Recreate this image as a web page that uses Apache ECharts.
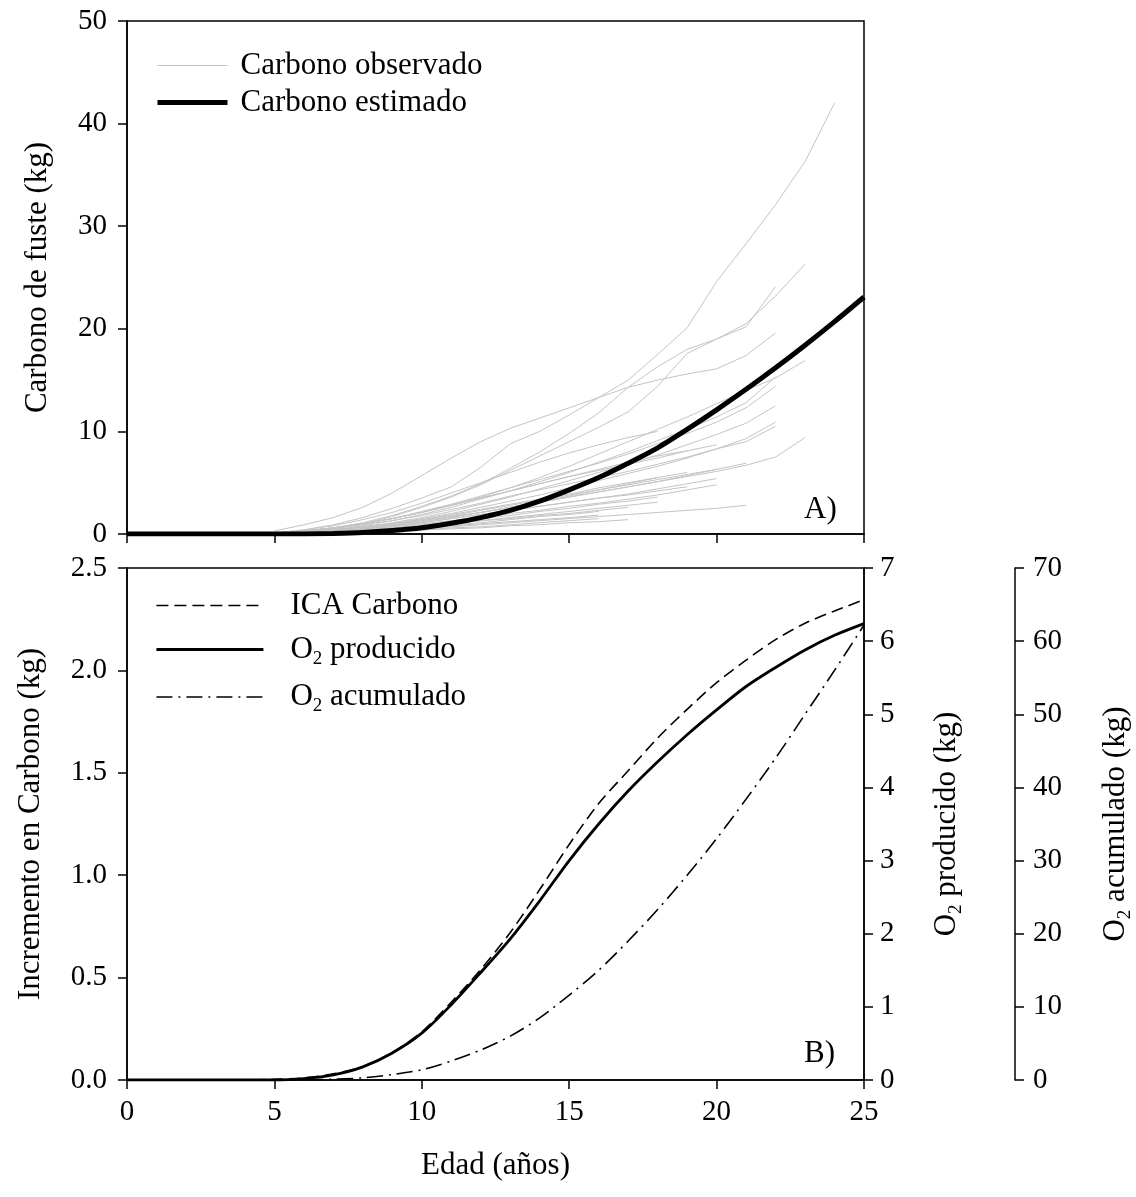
<!DOCTYPE html>
<html lang="es">
<head>
<meta charset="UTF-8">
<title>Carbono de fuste y O2</title>
<script src="https://cdn.jsdelivr.net/npm/echarts@6/dist/echarts.min.js"></script>
<style>
  html, body { margin: 0; padding: 0; background: #fff; }
  #chart { width: 1136px; height: 1197px; }
</style>
</head>
<body>
<div id="chart"></div>
<script>
// edad (años) para las curvas estimadas
var edad = [0, 1, 2, 3, 4, 5, 6, 7, 8, 9, 10, 11, 12, 13, 14, 15, 16, 17, 18, 19, 20, 21, 22, 23, 24, 25];
var carbonoEstimado = [0, 0, 0, 0, 0, 0, 0.01, 0.06, 0.15, 0.33, 0.6, 1.05, 1.6, 2.3, 3.2, 4.3, 5.5, 6.9, 8.4, 10.2, 12.1, 14.1, 16.2, 18.4, 20.7, 23.1];
var icaCarbono = [0, 0, 0, 0, 0, 0.003, 0.01, 0.03, 0.065, 0.135, 0.235, 0.38, 0.54, 0.72, 0.93, 1.15, 1.35, 1.51, 1.67, 1.81, 1.94, 2.05, 2.15, 2.23, 2.29, 2.345];
var o2Producido = [0, 0, 0, 0, 0, 0, 0.02, 0.07, 0.18, 0.37, 0.64, 1.03, 1.47, 1.93, 2.45, 3.0, 3.5, 3.95, 4.35, 4.72, 5.06, 5.38, 5.64, 5.88, 6.08, 6.24];
var o2Acumulado = [0, 0, 0, 0, 0, 0, 0.02, 0.1, 0.3, 0.75, 1.4, 2.6, 4.1, 6.0, 8.5, 11.6, 15.0, 19.0, 23.3, 28.0, 33.0, 38.4, 44.0, 50.0, 56.0, 62.2];

// árboles observados: valores anuales desde los 5 años
var obsInicio = 5;
var observados = [
  [0.1, 0.4, 0.9, 1.6, 2.5, 3.5, 4.6, 6.5, 8.8, 10.0, 11.6, 13.3, 15.0, 17.5, 20.1, 24.6, 28.3, 32.1, 36.3, 42.0],
  [0.3, 0.9, 1.6, 2.6, 4.0, 5.7, 7.4, 9.0, 10.3, 11.3, 12.3, 13.3, 14.3, 15.0, 15.6, 16.1, 17.4, 19.6],
  [0.1, 0.3, 0.6, 1.1, 1.8, 2.7, 3.7, 4.9, 6.4, 8.0, 9.8, 11.8, 14.3, 16.3, 18.0, 19.0, 20.5, 23.2, 26.3],
  [0.1, 0.2, 0.5, 1.0, 1.7, 2.6, 3.6, 4.8, 6.2, 7.6, 9.0, 10.4, 11.9, 14.4, 17.6, 19.0, 20.2, 24.1],
  [0.1, 0.3, 0.6, 1.0, 1.5, 2.1, 2.8, 3.6, 4.5, 5.5, 6.6, 7.8, 9.0, 10.2, 11.4, 12.7, 14.0, 15.2, 16.9],
  [0.1, 0.2, 0.4, 0.8, 1.3, 1.9, 2.6, 3.4, 4.2, 5.1, 6.0, 7.0, 8.0, 9.1, 10.2, 11.4, 12.8, 15.3],
  [0.1, 0.3, 0.6, 1.0, 1.5, 2.2, 2.9, 3.7, 4.5, 5.3, 6.1, 6.9, 7.8, 8.8, 9.8, 10.9, 12.3, 14.4],
  [0.1, 0.2, 0.4, 0.7, 1.1, 1.6, 2.2, 2.9, 3.6, 4.4, 5.2, 6.0, 6.8, 7.7, 8.7, 9.7, 10.8, 12.5],
  [0.0, 0.2, 0.4, 0.7, 1.0, 1.5, 2.0, 2.6, 3.2, 3.8, 4.5, 5.2, 5.9, 6.6, 7.4, 8.3, 9.3, 10.9],
  [0.1, 0.3, 0.5, 0.9, 1.3, 1.8, 2.4, 3.0, 3.7, 4.3, 4.9, 5.5, 6.1, 6.8, 7.5, 8.3, 9.0, 10.5],
  [0.0, 0.1, 0.3, 0.5, 0.8, 1.2, 1.6, 2.1, 2.6, 3.1, 3.6, 4.1, 4.6, 5.1, 5.6, 6.1, 6.7, 7.5, 9.4],
  [0.1, 0.2, 0.4, 0.7, 1.0, 1.4, 1.8, 2.3, 2.8, 3.3, 3.8, 4.3, 4.8, 5.3, 5.8, 6.3, 6.9],
  [0.1, 0.3, 0.6, 1.0, 1.5, 2.1, 2.8, 3.5, 4.2, 4.9, 5.6, 6.3, 7.0, 7.6, 8.1, 8.7],
  [0.1, 0.2, 0.4, 0.6, 0.9, 1.3, 1.7, 2.1, 2.6, 3.1, 3.6, 4.1, 4.6, 5.1, 5.7, 6.3],
  [0.0, 0.2, 0.3, 0.5, 0.8, 1.1, 1.5, 1.9, 2.3, 2.7, 3.1, 3.5, 3.9, 4.4, 4.9, 5.4],
  [0.0, 0.1, 0.3, 0.5, 0.7, 1.0, 1.3, 1.6, 2.0, 2.3, 2.7, 3.0, 3.4, 3.8, 4.3, 4.8],
  [0.0, 0.1, 0.2, 0.3, 0.4, 0.6, 0.7, 0.9, 1.1, 1.3, 1.5, 1.7, 1.9, 2.1, 2.3, 2.5, 2.8],
  [0.1, 0.3, 0.6, 1.0, 1.5, 2.1, 2.8, 3.5, 4.2, 4.9, 5.6, 6.2, 6.8, 7.4, 8.1],
  [0.0, 0.1, 0.3, 0.5, 0.8, 1.1, 1.5, 1.9, 2.3, 2.7, 3.1, 3.5, 3.8, 4.2, 4.6],
  [0.1, 0.4, 0.8, 1.4, 2.1, 3.0, 4.0, 5.0, 6.0, 7.0, 7.9, 8.7, 9.4, 10.0],
  [0.0, 0.1, 0.2, 0.4, 0.6, 0.9, 1.2, 1.5, 1.8, 2.2, 2.5, 2.9, 3.2, 3.6],
  [0.0, 0.1, 0.2, 0.3, 0.5, 0.7, 1.0, 1.3, 1.6, 1.9, 2.2, 2.5, 2.8, 3.1],
  [0.0, 0.2, 0.4, 0.6, 0.9, 1.3, 1.7, 2.1, 2.6, 3.1, 3.7, 4.3, 4.9, 5.5],
  [0.0, 0.1, 0.1, 0.2, 0.3, 0.4, 0.5, 0.6, 0.8, 0.9, 1.1, 1.2, 1.4],
  [0.0, 0.1, 0.2, 0.3, 0.5, 0.7, 0.9, 1.1, 1.4, 1.7, 1.9, 2.2],
  [0.0, 0.1, 0.2, 0.3, 0.4, 0.6, 0.8, 1.0, 1.2, 1.4, 1.6, 1.85],
  [0.0, 0.1, 0.1, 0.2, 0.3, 0.4, 0.6, 0.7, 0.9, 1.1, 1.3, 1.5],
  [0.0, 0.1, 0.2, 0.4, 0.6, 0.8, 1.0, 1.3, 1.5, 1.8, 2.0, 2.3, 2.6],
  [0.1, 0.2, 0.4, 0.7, 1.0, 1.4, 1.9, 2.4, 2.9, 3.4, 3.9, 4.5, 5.0, 5.5, 6.0]
];

var serif = '"Liberation Serif", "Times New Roman", serif';
var negro = '#000';

function pares(xs, ys) {
  return ys.map(function (v, i) { return [xs[i], v]; });
}

function ejeX(grid, conEtiquetas) {
  return {
    gridIndex: grid, type: 'value', min: 0, max: 25, interval: 5,
    axisLine: { lineStyle: { color: negro, width: 1.5 } },
    axisTick: { inside: false, length: 9, lineStyle: { color: negro, width: 1.5 } },
    axisLabel: { show: conEtiquetas, color: negro, fontFamily: serif, fontSize: 29, margin: 18 },
    splitLine: { show: false },
    name: conEtiquetas ? 'Edad (años)' : '',
    nameLocation: 'middle', nameGap: 70,
    nameTextStyle: { color: negro, fontFamily: serif, fontSize: 31 }
  };
}

function ejeY(grid, opts) {
  return {
    gridIndex: grid, type: 'value', min: 0, max: opts.max, interval: opts.interval,
    position: opts.position || 'left', offset: opts.offset || 0,
    axisLine: { show: true, lineStyle: { color: negro, width: 1.5 } },
    axisTick: { show: true, inside: false, length: 9, lineStyle: { color: negro, width: 1.5 } },
    axisLabel: { color: negro, fontFamily: serif, fontSize: 29, margin: opts.margin || 16, formatter: opts.formatter },
    splitLine: { show: false },
    name: opts.name, nameLocation: 'middle', nameRotate: 90, nameGap: opts.nameGap,
    nameTextStyle: {
      color: negro, fontFamily: serif, fontSize: 31,
      rich: {
        b: { fontFamily: serif, fontSize: 31, color: negro, lineHeight: 38 },
        s: { fontFamily: serif, fontSize: 19, color: negro, lineHeight: 38, verticalAlign: 'bottom' }
      }
    }
  };
}

var richLeyenda = {
  b: { fontFamily: serif, fontSize: 31, color: negro, lineHeight: 38 },
  s: { fontFamily: serif, fontSize: 19, color: negro, lineHeight: 38, verticalAlign: 'bottom' }
};

var series = observados.map(function (vals) {
  return {
    type: 'line', name: 'Carbono observado', xAxisIndex: 0, yAxisIndex: 0,
    data: vals.map(function (v, i) { return [obsInicio + i, v]; }),
    symbol: 'none', silent: true, z: 2,
    itemStyle: { color: '#c4c4c4' },
    lineStyle: { color: '#c4c4c4', width: 1 }
  };
});

series.push({
  type: 'line', name: 'Carbono estimado', xAxisIndex: 0, yAxisIndex: 0,
  data: pares(edad, carbonoEstimado), symbol: 'none', smooth: 0.3, z: 5,
  itemStyle: { color: negro },
  lineStyle: { color: negro, width: 5 }
});
series.push({
  type: 'line', name: 'ICA Carbono', xAxisIndex: 1, yAxisIndex: 1,
  data: pares(edad, icaCarbono), symbol: 'none', smooth: 0.3,
  itemStyle: { color: negro },
  lineStyle: { color: negro, width: 1.6, type: [12, 6] }
});
series.push({
  type: 'line', name: 'O2 producido', xAxisIndex: 1, yAxisIndex: 2,
  data: pares(edad, o2Producido), symbol: 'none', smooth: 0.3,
  itemStyle: { color: negro },
  lineStyle: { color: negro, width: 2.8 }
});
series.push({
  type: 'line', name: 'O2 acumulado', xAxisIndex: 1, yAxisIndex: 3,
  data: pares(edad, o2Acumulado), symbol: 'none', smooth: 0.3,
  itemStyle: { color: negro },
  lineStyle: { color: negro, width: 1.6, type: [16, 6, 2, 6] }
});

var chart = echarts.init(document.getElementById('chart'), null, { renderer: 'canvas' });
chart.setOption({
  animation: false,
  backgroundColor: '#fff',
  grid: [
    { left: 127, top: 21, width: 737, height: 513, show: true, borderColor: negro, borderWidth: 1.5, outerBoundsMode: 'none' },
    { left: 127, top: 568, width: 737, height: 512, show: true, borderColor: negro, borderWidth: 1.5, outerBoundsMode: 'none' }
  ],
  xAxis: [ejeX(0, false), ejeX(1, true)],
  yAxis: [
    ejeY(0, { max: 50, interval: 10, name: 'Carbono de fuste (kg)', nameGap: 74, margin: 20 }),
    ejeY(1, { max: 2.5, interval: 0.5, name: 'Incremento en Carbono (kg)', nameGap: 81, margin: 20,
      formatter: function (v) { return v.toFixed(1); } }),
    ejeY(1, { max: 7, interval: 1, position: 'right', name: '{b|O}{s|2}{b| producido (kg)}', nameGap: 64, margin: 16 }),
    ejeY(1, { max: 70, interval: 10, position: 'right', offset: 151, name: '{b|O}{s|2}{b| acumulado (kg)}', nameGap: 82, margin: 18 })
  ],
  legend: [
    {
      orient: 'vertical', left: 150, top: 45, itemWidth: 70, itemHeight: 14, itemGap: 6,
      selectedMode: false,
      itemStyle: { opacity: 0 },
      data: [
        { name: 'Carbono observado', lineStyle: { width: 1, color: '#c4c4c4' } },
        { name: 'Carbono estimado', lineStyle: { width: 5, color: negro } }
      ],
      textStyle: { color: negro, fontFamily: serif, fontSize: 31, padding: [0, 0, 0, 8] }
    },
    {
      orient: 'vertical', left: 150, top: 585, itemWidth: 107, itemHeight: 14, itemGap: 13,
      selectedMode: false,
      itemStyle: { opacity: 0 },
      data: [
        { name: 'ICA Carbono', lineStyle: { width: 1.6 } },
        { name: 'O2 producido', lineStyle: { width: 2.8 } },
        { name: 'O2 acumulado', lineStyle: { width: 1.6 } }
      ],
      formatter: function (n) {
        return n.indexOf('O2') === 0 ? '{b|O}{s|2}{b|' + n.slice(2) + '}' : '{b|' + n + '}';
      },
      textStyle: { color: negro, fontFamily: serif, fontSize: 31, padding: [0, 0, 0, 22], rich: richLeyenda }
    }
  ],
  graphic: [
    { type: 'text', left: 804, top: 494, style: { text: 'A)', font: '31px "Liberation Serif", serif', fill: negro } },
    { type: 'text', left: 804, top: 1038, style: { text: 'B)', font: '31px "Liberation Serif", serif', fill: negro } }
  ],
  series: series
});
</script>
</body>
</html>
